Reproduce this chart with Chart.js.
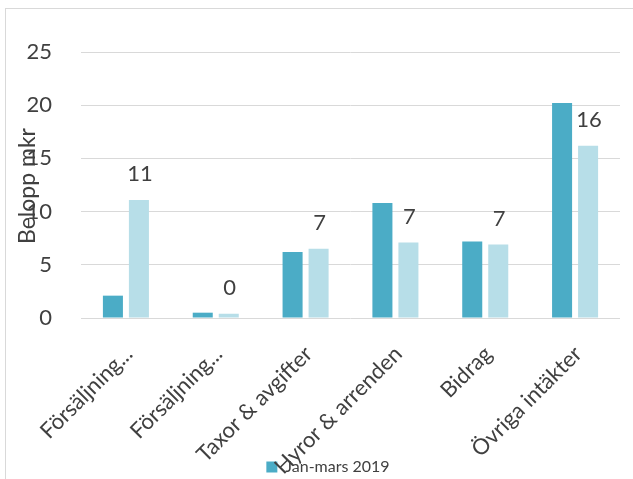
<!DOCTYPE html>
<html>
<head>
<meta charset="utf-8">
<script src="https://cdn.jsdelivr.net/npm/chart.js@4/dist/chart.umd.min.js"></script>
<style>
  html, body { margin: 0; padding: 0; overflow: hidden; background: #fff; }
  #frame {
    position: absolute; left: 5px; top: 8px;
    border-left: 1px solid #d9d9d9; border-top: 1px solid #d9d9d9;
    width: 627px; height: 516px;
  }
</style>
</head>
<body>
<div id="frame"><canvas id="chart" width="627" height="516"></canvas></div>
<script>
const categories = ["Försäljning...", "Försäljning...", "Taxor & avgifter", "Hyror & arrenden", "Bidrag", "Övriga intäkter"];
const seriesNames = ["Jan-mars 2019", "Jan-mars 2018"];
const seriesA = [2.1, 0.5, 6.2, 10.8, 7.2, 20.2];
const seriesB = [11.1, 0.4, 6.5, 7.1, 6.9, 16.2];
const yTicks = [0, 5, 10, 15, 20, 25];
const yTitle = "Belopp mkr";

const textColor = "#404040";
const font = "Lato";

// value labels above the light bars only
const valueLabels = {
  id: "valueLabels",
  afterDatasetsDraw(chart) {
    const ctx = chart.ctx;
    const meta = chart.getDatasetMeta(1);
    ctx.save();
    ctx.font = "22px " + font;
    ctx.fillStyle = textColor;
    ctx.textAlign = "center";
    ctx.textBaseline = "middle";
    meta.data.forEach((bar, i) => {
      ctx.fillText(String(Math.round(seriesB[i])), bar.x + 1, bar.y - 26);
    });
    ctx.restore();
  }
};

// axis title sits on top of the tick labels like in the original
const axisTitle = {
  id: "axisTitle",
  afterDraw(chart) {
    const ctx = chart.ctx;
    ctx.save();
    ctx.font = "23px " + font;
    ctx.fillStyle = textColor;
    ctx.textAlign = "center";
    ctx.textBaseline = "middle";
    ctx.translate(22, 177);
    ctx.rotate(-Math.PI / 2);
    ctx.fillText(yTitle, 0, 0);
    ctx.restore();
  }
};

// legend overlaps the bottom of the category labels
const shiftLegend = {
  id: "shiftLegend",
  afterLayout(chart) {
    chart.legend.left += 15;
    chart.legend.right += 15;
    chart.legend.top -= 40;
    chart.legend.bottom -= 40;
  }
};

new Chart(document.getElementById("chart"), {
  type: "bar",
  data: {
    labels: categories,
    datasets: [
      { label: seriesNames[0], data: seriesA, backgroundColor: "#4bacc6",
        categoryPercentage: 0.579, barPercentage: 0.77 },
      { label: seriesNames[1], data: seriesB, backgroundColor: "#b7dee8",
        categoryPercentage: 0.579, barPercentage: 0.77 }
    ]
  },
  options: {
    responsive: false,
    animation: false,
    layout: { padding: { top: 43, right: 13, bottom: 0, left: 0 } },
    plugins: {
      legend: {
        position: "bottom",
        labels: {
          filter: item => item.datasetIndex === 0,
          boxWidth: 11, boxHeight: 11, padding: 10,
          color: textColor,
          font: { family: font, size: 16 }
        }
      },
      tooltip: { enabled: false }
    },
    scales: {
      x: {
        grid: { display: false },
        border: { display: false },
        ticks: {
          color: textColor,
          font: { family: font, size: 22 },
          minRotation: 45, maxRotation: 45,
          autoSkip: false,
          padding: 15,
          labelOffset: 3
        },
        afterFit(scale) { scale.height = 171; }
      },
      y: {
        min: 0, max: 25,
        afterBuildTicks(scale) { scale.ticks = yTicks.map(v => ({ value: v })); },
        grid: { color: "#d9d9d9", lineWidth: 1, drawTicks: false },
        border: { display: false },
        ticks: {
          color: textColor,
          font: { family: font, size: 22 },
          padding: 29
        },
        afterFit(scale) { scale.width = 75; }
      }
    }
  },
  plugins: [valueLabels, axisTitle, shiftLegend]
});
</script>
</body>
</html>
